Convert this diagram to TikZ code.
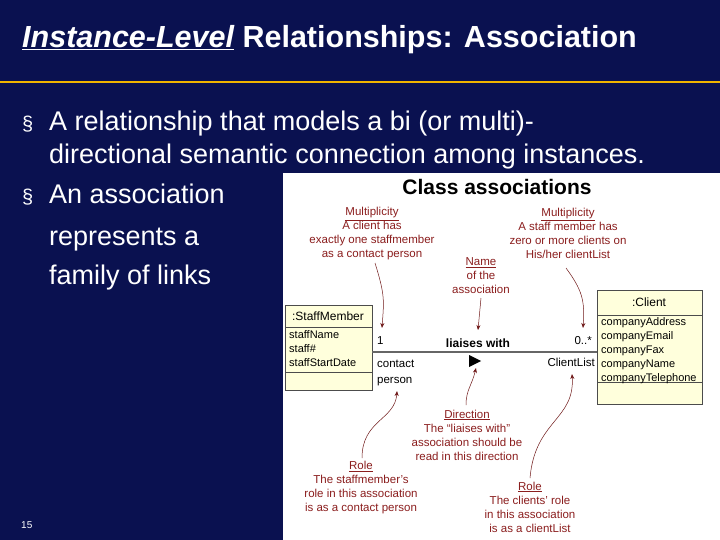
\documentclass[tikz,border=0pt]{standalone}
\usepackage{fontspec}
\setmainfont{Liberation Sans}
\usetikzlibrary{arrows.meta}
\definecolor{navy}{HTML}{0A1150}
\definecolor{gold}{HTML}{F0B400}
\definecolor{anno}{HTML}{8B1E1E}
\definecolor{boxy}{HTML}{FFFFDC}
\begin{document}
\begin{tikzpicture}[x=1pt,y=-1pt,
 bul/.style={anchor=base west,text=white,font=\fontsize{27}{30}\selectfont,inner sep=0},
 an/.style={text=anno,font=\fontsize{11.5}{14}\selectfont,align=center,inner sep=0},
 cls/.style={fill=boxy,draw=black!70,line width=0.8pt},
 uml/.style={anchor=base west,font=\fontsize{11.5}{13.5}\selectfont,inner sep=0,align=left},
 aarr/.style={draw=anno!80!black,line width=0.5pt,-{Stealth[length=5pt,width=4pt]}}]
\useasboundingbox (0,0) rectangle (720,540);
\fill[navy] (0,0) rectangle (720,540);
\node[anchor=base west,text=white,font=\bfseries\fontsize{30.5}{34}\selectfont,inner sep=0] (title) at (22,48) {\underline{\itshape Instance-Level} Relationships: Association};
\draw[gold,line width=2pt] (0,82) -- (720,82);
\node[bul] (b1) at (22,131) {\fontsize{20}{20}\selectfont §};
\node[bul] (t1) at (49,131) {A relationship that models a bi (or multi)-};
\node[bul] (t1b) at (49,164) {directional semantic connection among instances.};
\node[bul] (b2) at (22,204) {\fontsize{20}{20}\selectfont §};
\node[bul] (t2) at (49,204) {An association};
\node[bul] (t2b) at (49,245) {represents a};
\node[bul] (t2c) at (49,284) {family of links};
\node[anchor=base west,text=white,font=\fontsize{10}{12}\selectfont,inner sep=0] (pg) at (21,528) {15};
% figure
\fill[white] (283,173) rectangle (720,540);
\node[font=\bfseries\fontsize{21}{24}\selectfont,inner sep=0] (ct) at (497,187) {Class associations};
% StaffMember
\draw[cls] (285,305) rectangle (372,390);
\draw[black!70,line width=0.8pt] (285,327) -- (372,327) (285,372) -- (372,372);
\node[font=\fontsize{12}{14}\selectfont] (sm) at (328,316) {:StaffMember};
\node[uml,anchor=north west,font=\fontsize{11}{14}\selectfont] (sma) at (289,330) {staffName\\staff\#\\staffStartDate};
% Client
\draw[cls] (597,290) rectangle (702,404);
\draw[black!70,line width=0.8pt] (597,315) -- (702,315) (597,382) -- (702,382);
\node[font=\fontsize{12}{14}\selectfont] (cl) at (649,302) {:Client};
\node[uml,anchor=north west,font=\fontsize{11}{14}\selectfont] (cla) at (601,317) {companyAddress\\companyEmail\\companyFax\\companyName\\companyTelephone};
% association
\coordinate (l1) at (372,352); \coordinate (l2) at (597,352);
\draw[black!60,line width=1.8pt] (l1) -- (l2);
\node[uml] (one) at (377,344) {1};
\node[font=\bfseries\fontsize{12}{14}\selectfont,inner sep=0] (lw) at (478,343) {liaises with};
\node[uml,anchor=base east] (many) at (592,344) {0..*};
\node[uml] (cp) at (377,367) {contact};
\node[uml] (cp2) at (377,383) {person};
\node[uml,anchor=base east] (clst) at (595,366) {ClientList};
\fill (469,355) -- (481,361) -- (469,367) -- cycle;
\coordinate (dir) at (476,368);
% annotations
\node[an] (m1) at (372,234) {\underline{Multiplicity}\\A client has\\exactly one staffmember\\as a contact person};
\node[an] (m2) at (568,233) {\underline{Multiplicity}\\A staff member has\\zero or more clients on\\His/her clientList};
\node[an] (nm) at (481,276) {\underline{Name}\\of the\\association};
\node[an] (dr) at (467,435) {\underline{Direction}\\The ``liaises with''\\association should be\\read in this direction};
\node[an] (r1) at (361,488) {\underline{Role}\\The staffmember's\\role in this association\\is as a contact person};
\node[an] (r2) at (530,507) {\underline{Role}\\The clients' role\\in this association\\is as a clientList};
\draw[aarr] (375,263) .. controls (385,295) and (384,300) .. (382,328);
\draw[aarr] (566,268) .. controls (582,290) and (585,300) .. (583,328);
\draw[aarr] (481,298) -- (478,330);
\draw[aarr] (466,405) .. controls (466,390) and (472,385) .. (dir);
\draw[aarr] (362,458) .. controls (362,420) and (395,420) .. (397,391);
\draw[aarr] (530,478) .. controls (535,420) and (575,420) .. (572,374);
\end{tikzpicture}
\end{document}
